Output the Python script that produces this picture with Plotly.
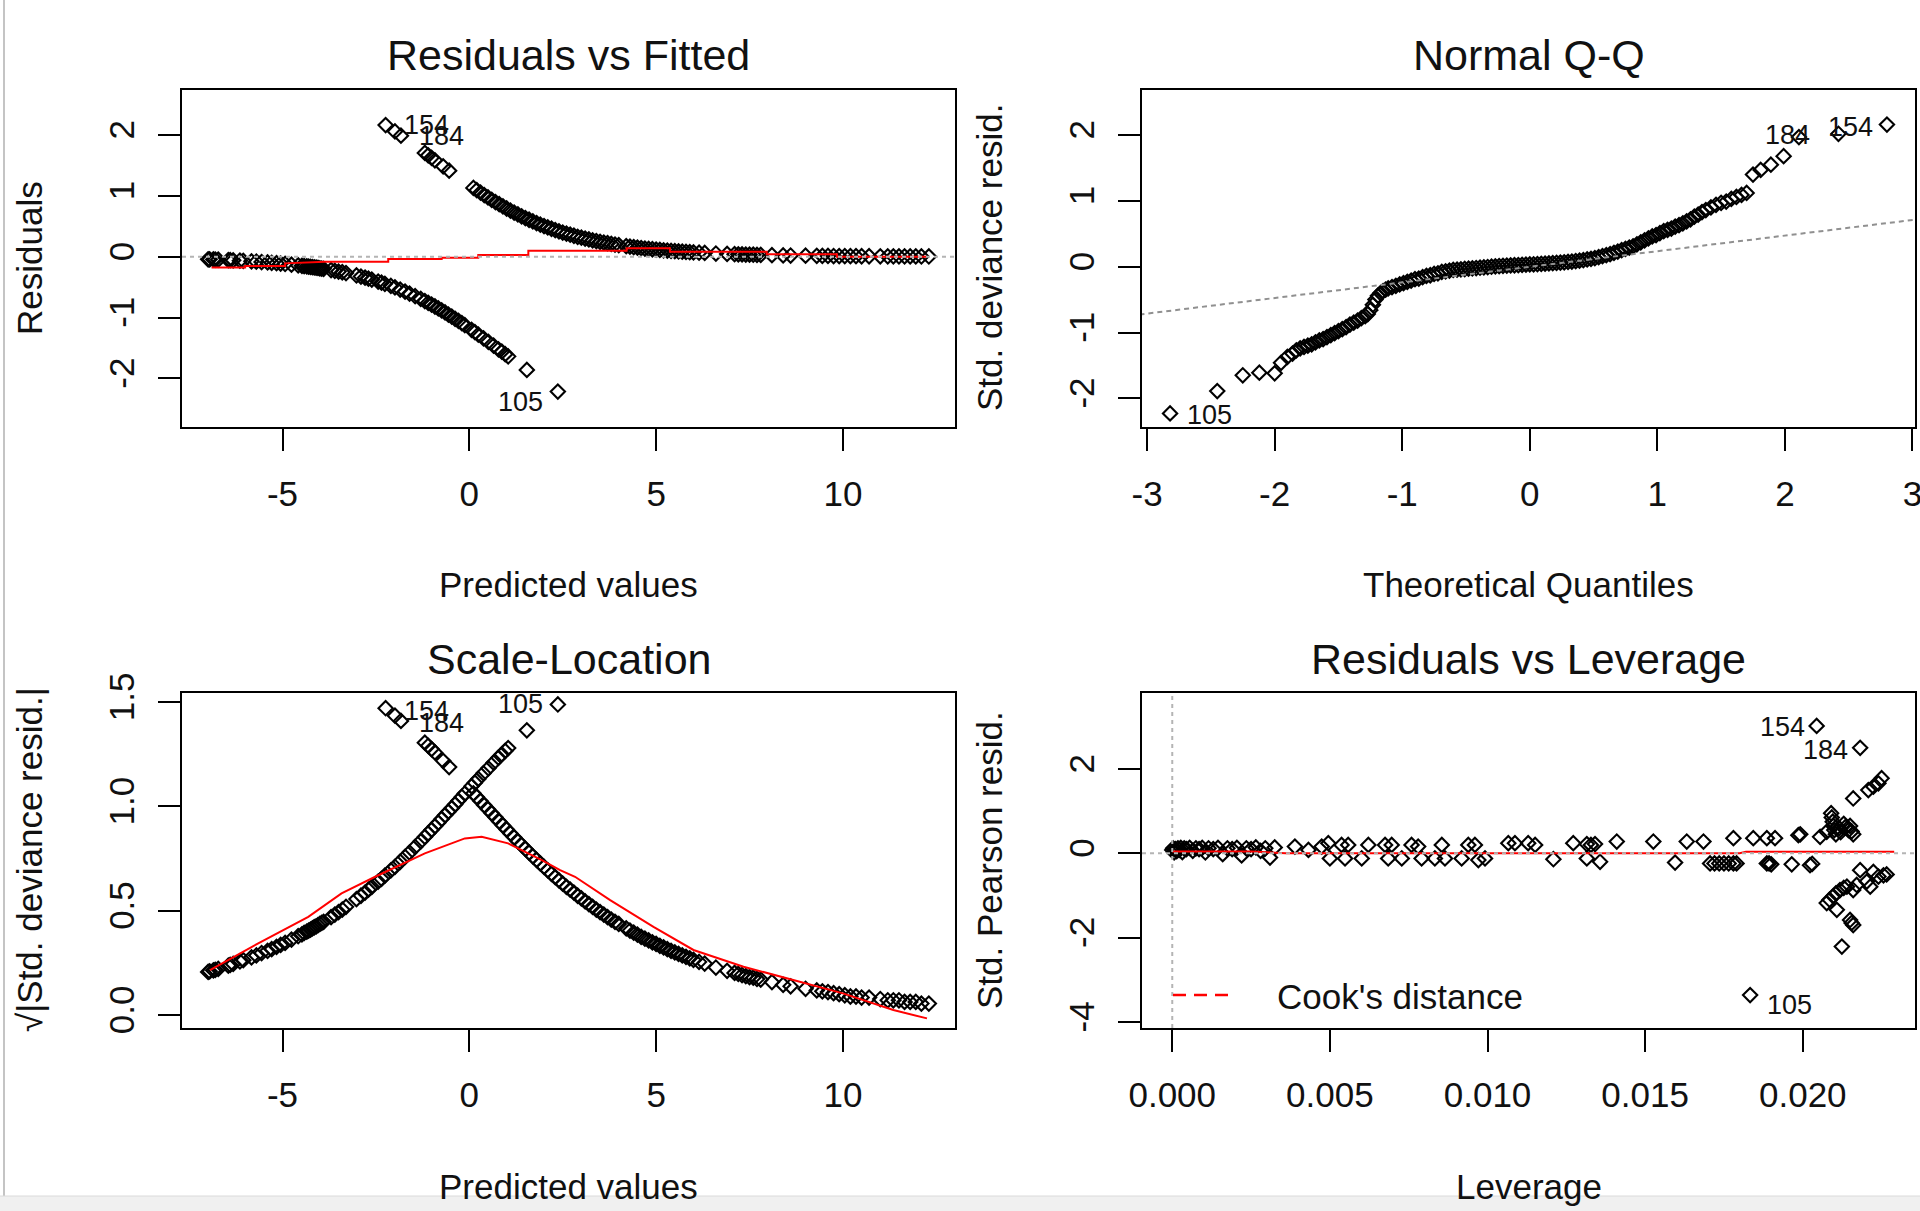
import plotly.graph_objects as go

W, H = 1920, 1211

# ---------------- data ----------------
# observations with response 0 (lower branch in Residuals vs Fitted)
fitted_y0 = [-6.99, -6.95, -6.85, -6.80, -6.72, -6.45, -6.40, -6.32, -6.14, -6.05,
             -5.83, -5.70, -5.56, -5.40, -5.29, -5.16, -5.05, -4.93, -4.76, -4.58,
             -4.48, -4.42, -4.35, -4.30, -4.25, -4.20, -4.15, -4.10, -4.05, -4.00,
             -3.95, -3.90, -3.70, -3.60, -3.50, -3.40, -3.30, -3.02, -2.90, -2.79,
             -2.70, -2.61, -2.44, -2.35, -2.26, -2.10, -1.99, -1.85, -1.72, -1.60,
             -1.45, -1.30, -1.19, -1.10, -1.01, -0.92, -0.83, -0.74, -0.65, -0.56,
             -0.47, -0.38, -0.29, -0.20, -0.12, 0.06, 0.15, 0.24, 0.38, 0.51,
             0.65, 0.78, 0.87, 0.96, 1.04, 1.54, 2.37]
resid_y0 = [-0.043, -0.044, -0.046, -0.047, -0.049, -0.056, -0.058, -0.060, -0.066, -0.069,
            -0.077, -0.082, -0.088, -0.095, -0.100, -0.107, -0.113, -0.120, -0.131, -0.143,
            -0.150, -0.155, -0.160, -0.164, -0.168, -0.173, -0.177, -0.181, -0.186, -0.191,
            -0.195, -0.200, -0.221, -0.232, -0.244, -0.256, -0.269, -0.309, -0.327, -0.345,
            -0.361, -0.377, -0.409, -0.427, -0.446, -0.481, -0.506, -0.540, -0.574, -0.607,
            -0.650, -0.694, -0.729, -0.758, -0.788, -0.819, -0.851, -0.883, -0.917, -0.951,
            -0.985, -1.021, -1.057, -1.094, -1.127, -1.203, -1.242, -1.281, -1.343, -1.400,
            -1.463, -1.522, -1.562, -1.603, -1.639, -1.862, -2.218]
sqrt_std_resid_y0 = [0.207, 0.210, 0.214, 0.217, 0.221, 0.237, 0.241, 0.245, 0.257, 0.263,
                     0.277, 0.286, 0.297, 0.308, 0.316, 0.327, 0.336, 0.346, 0.362, 0.378,
                     0.387, 0.394, 0.400, 0.405, 0.410, 0.416, 0.421, 0.425, 0.431, 0.437,
                     0.442, 0.447, 0.470, 0.482, 0.494, 0.506, 0.519, 0.556, 0.572, 0.587,
                     0.601, 0.614, 0.640, 0.653, 0.668, 0.694, 0.711, 0.735, 0.758, 0.779,
                     0.806, 0.833, 0.854, 0.871, 0.888, 0.905, 0.922, 0.940, 0.958, 0.975,
                     0.992, 1.010, 1.028, 1.046, 1.062, 1.097, 1.114, 1.132, 1.159, 1.183,
                     1.210, 1.234, 1.250, 1.266, 1.280, 1.365, 1.489]

# observations with response 1 (upper branch)
fitted_y1 = [-2.24, -1.99, -1.83, -1.19, -1.10, -1.01, -0.92, -0.70, -0.54,
             0.11, 0.20, 0.30, 0.40, 0.50, 0.60, 0.70, 0.80, 0.90, 1.00,
             1.10, 1.20, 1.30, 1.40, 1.50, 1.60, 1.70, 1.80, 1.90, 2.00,
             2.10, 2.20, 2.30, 2.40, 2.50, 2.60, 2.70, 2.80, 2.90, 3.00,
             3.10, 3.20, 3.30, 3.40, 3.50, 3.60, 3.70, 3.80, 3.90, 4.00,
             4.20, 4.30, 4.40, 4.50, 4.60, 4.70, 4.80, 4.90, 5.00, 5.10,
             5.20, 5.30, 5.40, 5.50, 5.60, 5.70, 5.80, 5.90, 6.00,
             6.15, 6.30, 6.60, 6.90,
             7.10, 7.20, 7.30, 7.40, 7.50, 7.60, 7.70, 7.80,
             8.10, 8.40, 8.60, 9.00,
             9.30, 9.45, 9.60, 9.75, 9.90, 10.05, 10.20, 10.35, 10.50,
             10.70, 11.00,
             11.20, 11.35, 11.50, 11.65, 11.80, 11.95, 12.10, 12.30]
resid_y1 = [2.164, 2.058, 1.989, 1.706, 1.666, 1.625, 1.585, 1.485, 1.414,
            1.131, 1.094, 1.053, 1.013, 0.974, 0.935, 0.898, 0.862, 0.826, 0.792,
            0.758, 0.726, 0.694, 0.664, 0.635, 0.607, 0.579, 0.553, 0.528, 0.504,
            0.481, 0.459, 0.437, 0.417, 0.397, 0.378, 0.361, 0.344, 0.327, 0.312,
            0.297, 0.283, 0.269, 0.256, 0.244, 0.232, 0.221, 0.210, 0.200, 0.191,
            0.173, 0.164, 0.156, 0.149, 0.141, 0.134, 0.128, 0.122, 0.116, 0.110,
            0.105, 0.100, 0.095, 0.090, 0.086, 0.082, 0.078, 0.074, 0.070,
            0.065, 0.061, 0.052, 0.045,
            0.041, 0.039, 0.037, 0.035, 0.033, 0.032, 0.030, 0.029,
            0.025, 0.021, 0.019, 0.016,
            0.014, 0.013, 0.012, 0.011, 0.010, 0.009, 0.008, 0.008, 0.007,
            0.007, 0.006,
            0.005, 0.005, 0.005, 0.004, 0.004, 0.004, 0.003, 0.003]
sqrt_std_resid_y1 = [1.471, 1.435, 1.410, 1.306, 1.291, 1.275, 1.259, 1.219, 1.189,
                     1.063, 1.046, 1.026, 1.006, 0.987, 0.967, 0.948, 0.928, 0.909, 0.890,
                     0.871, 0.852, 0.833, 0.815, 0.797, 0.779, 0.761, 0.744, 0.727, 0.710,
                     0.694, 0.677, 0.661, 0.646, 0.630, 0.615, 0.601, 0.587, 0.572, 0.559,
                     0.545, 0.532, 0.519, 0.506, 0.494, 0.482, 0.470, 0.458, 0.447, 0.437,
                     0.416, 0.405, 0.395, 0.386, 0.375, 0.366, 0.358, 0.349, 0.341, 0.332,
                     0.324, 0.316, 0.308, 0.300, 0.293, 0.286, 0.279, 0.272, 0.265,
                     0.255, 0.247, 0.228, 0.212,
                     0.202, 0.197, 0.192, 0.187, 0.182, 0.179, 0.173, 0.170,
                     0.158, 0.145, 0.138, 0.126,
                     0.118, 0.114, 0.110, 0.105, 0.100, 0.095, 0.089, 0.089, 0.084,
                     0.084, 0.077,
                     0.071, 0.071, 0.071, 0.063, 0.063, 0.063, 0.055, 0.055]

# red smoother, Residuals vs Fitted
smooth_rvf_x = [-6.90, -6.00, -6.00, -4.93, -4.93, -3.86, -2.17, -2.17, -0.74, -0.74,
                0.24, 0.24, 1.58, 1.58, 4.21, 4.21, 5.37, 5.37, 7.96, 7.96,
                9.84, 9.84, 12.25]
smooth_rvf_y = [-0.180, -0.180, -0.153, -0.153, -0.110, -0.082, -0.082, -0.038, -0.038, -0.016,
                -0.016, 0.028, 0.028, 0.099, 0.099, 0.138, 0.138, 0.082, 0.082, 0.039,
                0.039, 0.000, 0.000]

# red smoother, Scale-Location
smooth_sl_x = [-6.94, -5.65, -4.31, -3.42, -2.52, -1.19, -0.12, 0.33, 1.04, 1.94,
               2.43, 2.83, 3.77, 4.93, 6.00, 7.34, 8.67, 10.00, 11.35, 12.25]
smooth_sl_y = [0.216, 0.344, 0.471, 0.583, 0.663, 0.775, 0.847, 0.855, 0.823, 0.743,
               0.695, 0.663, 0.551, 0.423, 0.312, 0.232, 0.168, 0.104, 0.024, -0.016]

# Normal Q-Q
qq_theoretical = [-2.82, -2.45, -2.25, -2.12, -2.00, -1.95, -1.90, -1.86, -1.83, -1.80,
                  -1.77, -1.74, -1.71, -1.68, -1.65, -1.62, -1.59, -1.56, -1.53,
                  -1.50, -1.47, -1.44, -1.41, -1.38, -1.35, -1.32, -1.29, -1.27,
                  -1.25, -1.23, -1.21, -1.19, -1.17, -1.15, -1.13, -1.11,
                  -1.08, -1.05, -1.02, -0.99, -0.96, -0.93, -0.90, -0.87, -0.84, -0.81,
                  -0.78, -0.75, -0.72, -0.69, -0.66, -0.63, -0.60,
                  -0.57, -0.54, -0.51, -0.48, -0.45, -0.42, -0.39, -0.36, -0.33, -0.30,
                  -0.27, -0.24, -0.21, -0.18, -0.15, -0.12, -0.09, -0.06, -0.03, 0.00,
                  0.03, 0.06, 0.09, 0.12, 0.15, 0.18, 0.21, 0.24, 0.27, 0.30,
                  0.33, 0.36, 0.39, 0.42, 0.45, 0.48, 0.51, 0.54, 0.57, 0.60,
                  0.63, 0.66, 0.69, 0.72, 0.75, 0.78, 0.81, 0.84, 0.87, 0.90,
                  0.93, 0.96, 0.99, 1.02,
                  1.05, 1.08, 1.11, 1.14, 1.17, 1.20, 1.23, 1.26, 1.29, 1.32,
                  1.35, 1.38, 1.42, 1.46, 1.50, 1.54, 1.58, 1.62, 1.66, 1.70,
                  1.75, 1.81, 1.89, 1.99, 2.11, 2.42, 2.80]
qq_std_resid = [-2.23, -1.89, -1.65, -1.61, -1.62, -1.46, -1.37, -1.32, -1.27, -1.24,
                -1.22, -1.20, -1.18, -1.15, -1.12, -1.10, -1.07, -1.04, -1.01,
                -0.98, -0.95, -0.92, -0.88, -0.85, -0.82, -0.78, -0.75, -0.72,
                -0.66, -0.58, -0.50, -0.44, -0.40, -0.37, -0.35, -0.33,
                -0.31, -0.29, -0.27, -0.25, -0.23, -0.21, -0.19, -0.18, -0.16, -0.14,
                -0.13, -0.11, -0.10, -0.08, -0.07, -0.06, -0.05,
                -0.045, -0.040, -0.035, -0.030, -0.025, -0.020, -0.015, -0.010, -0.005, 0.000,
                0.005, 0.010, 0.013, 0.016, 0.019, 0.022, 0.025, 0.028, 0.031, 0.034,
                0.037, 0.040, 0.043, 0.046, 0.050, 0.054, 0.058, 0.062, 0.067, 0.072,
                0.078, 0.085, 0.092, 0.100, 0.110, 0.120, 0.130, 0.145, 0.160, 0.175,
                0.190, 0.210, 0.230, 0.250, 0.270, 0.290, 0.310, 0.340, 0.370, 0.400,
                0.430, 0.460, 0.480, 0.510,
                0.54, 0.56, 0.58, 0.61, 0.63, 0.66, 0.69, 0.72, 0.76, 0.79,
                0.83, 0.86, 0.90, 0.94, 0.97, 0.99, 1.03, 1.06, 1.09, 1.12,
                1.40, 1.47, 1.55, 1.68, 1.97, 2.02, 2.16]
qq_line_x = [-3.2, 3.2]
qq_line_y = [-0.760, 0.757]

# Residuals vs Leverage
leverage = [0.00000, 0.00003, 0.00006, 0.00010, 0.00014, 0.00018, 0.00022, 0.00027, 0.00032, 0.00038,
            0.00045, 0.00055, 0.00065, 0.00075, 0.00085, 0.00095, 0.00105, 0.00115, 0.00130, 0.00145,
            0.00160, 0.00175, 0.00190, 0.00205, 0.00220, 0.00235, 0.00250, 0.00265, 0.00280, 0.00295,
            0.00310, 0.00325,
            0.00389, 0.00432, 0.00474, 0.00495, 0.00500, 0.00537, 0.00548, 0.00558, 0.00601, 0.00622,
            0.00675, 0.00685, 0.00696, 0.00728, 0.00759, 0.00780, 0.00791, 0.00833, 0.00855, 0.00865,
            0.00918, 0.00939, 0.00960, 0.00971, 0.00992, 0.01066, 0.01087, 0.01129,
            0.01151, 0.01209, 0.01272, 0.01315, 0.01328, 0.01341, 0.01315, 0.01357, 0.01410, 0.01526,
            0.01595, 0.01632, 0.01685,
            0.01706, 0.01720, 0.01735, 0.01750, 0.01765, 0.01780, 0.01790, 0.01780,
            0.01843, 0.01886, 0.01912, 0.01886, 0.01893, 0.01900, 0.01965, 0.01986, 0.01992, 0.02023,
            0.02030,
            0.02044, 0.02182, 0.01833,
            0.02055, 0.02076, 0.02090, 0.02092, 0.02095, 0.02097, 0.02100, 0.02105, 0.02115, 0.02120,
            0.02130, 0.02135, 0.02145, 0.02150, 0.02155, 0.02160,
            0.02160, 0.02208, 0.02224, 0.02240, 0.02250,
            0.02076, 0.02085, 0.02097, 0.02105, 0.02118, 0.02130, 0.02140, 0.02160, 0.02108, 0.02150,
            0.02155, 0.02160, 0.02124,
            0.02171, 0.02182, 0.02203, 0.02214, 0.02224, 0.02240, 0.02256, 0.02266]
std_pearson_resid = [0.08, 0.12, 0.02, 0.10, 0.05, 0.12, 0.08, 0.13, 0.03, 0.12,
                     0.10, 0.13, 0.06, 0.12, 0.10, 0.13, 0.02, 0.12, 0.10, 0.13,
                     -0.02, 0.12, 0.10, 0.13, -0.05, 0.12, 0.10, 0.14, 0.06, 0.12,
                     -0.10, 0.14,
                     0.16, 0.08, 0.16, 0.24, -0.12, 0.20, -0.12, 0.20, -0.12, 0.20,
                     0.20, -0.12, 0.20, -0.12, 0.20, 0.16, -0.12, -0.12, 0.20, -0.12,
                     -0.12, 0.20, 0.20, -0.16, -0.12, 0.24, 0.24, 0.24,
                     0.20, -0.14, 0.24, 0.22, 0.20, 0.22, -0.12, -0.20, 0.28, 0.28,
                     -0.22, 0.28, 0.28,
                     -0.24, -0.24, -0.24, -0.24, -0.24, -0.24, -0.24, 0.36,
                     0.36, 0.36, 0.36, -0.24, -0.24, -0.26, -0.26, 0.43, 0.45, -0.28,
                     -0.25,
                     3.02, 2.50, -3.36,
                     0.39, 0.51, 0.95, 0.85, 0.75, 0.65, 0.55, 0.45, 0.60, 0.50,
                     0.70, 0.62, 0.55, 0.65, 0.52, 0.45,
                     1.30, 1.50, 1.58, 1.66, 1.78,
                     -1.18, -1.10, -1.02, -0.95, -0.87, -0.82, -0.79, -0.87, -1.34, -1.58,
                     -1.65, -1.70, -2.21,
                     -0.75, -0.40, -0.67, -0.79, -0.44, -0.55, -0.52, -0.50]
smooth_lev_x = [0.0000, 0.0025, 0.0036, 0.0180, 0.0182, 0.0229]
smooth_lev_y = [0.045, 0.045, 0.000, 0.000, 0.040, 0.040]

# axis ticks
rvf_x_ticks = [-5, 0, 5, 10]
rvf_y_ticks = [-2, -1, 0, 1, 2]
qq_x_ticks = [-3, -2, -1, 0, 1, 2, 3]
qq_y_ticks = [-2, -1, 0, 1, 2]
sl_y_ticks = [0.0, 0.5, 1.0, 1.5]
sl_y_ticktext = ["0.0", "0.5", "1.0", "1.5"]
lev_x_ticks = [0.0, 0.005, 0.010, 0.015, 0.020]
lev_x_ticktext = ["0.000", "0.005", "0.010", "0.015", "0.020"]
lev_y_ticks = [-4, -2, 0, 2]

# ---------------- figure ----------------
FONT = "Arial, Liberation Sans, Helvetica, sans-serif"
BLACK = "#111111"
GRAY_DOT = "#b4b4b4"


def pxx(px):
    return px / W


def pxy(py):
    return 1 - py / H


marker = dict(symbol="diamond-open", size=11, color="black", line=dict(width=2.1, color="black"))

fig = go.Figure()


def pts(x, y, xa, ya):
    fig.add_trace(go.Scatter(x=x, y=y, mode="markers", marker=marker, xaxis=xa, yaxis=ya,
                             hoverinfo="skip", showlegend=False))


def line(x, y, xa, ya, color, width=2, dash="solid"):
    fig.add_trace(go.Scatter(x=x, y=y, mode="lines", line=dict(color=color, width=width, dash=dash),
                             xaxis=xa, yaxis=ya, hoverinfo="skip", showlegend=False))


# panel 1
pts(fitted_y0, resid_y0, "x", "y")
pts(fitted_y1, resid_y1, "x", "y")
line(smooth_rvf_x, smooth_rvf_y, "x", "y", "#ff0000", 2)
# panel 2
pts(qq_theoretical, qq_std_resid, "x2", "y2")
line(qq_line_x, qq_line_y, "x2", "y2", "#909090", 2, "5px,4px")
# panel 3
pts(fitted_y0, sqrt_std_resid_y0, "x3", "y3")
pts(fitted_y1, sqrt_std_resid_y1, "x3", "y3")
line(smooth_sl_x, smooth_sl_y, "x3", "y3", "#ff0000", 2)
# panel 4
pts(leverage, std_pearson_resid, "x4", "y4")
line(smooth_lev_x, smooth_lev_y, "x4", "y4", "#ff0000", 2)

axis_common = dict(showline=True, mirror=True, linecolor="black", linewidth=2,
                   ticks="outside", ticklen=22, tickwidth=2, tickcolor="black",
                   showgrid=False, zeroline=False, fixedrange=True, automargin=False,
                   ticklabeloverflow="allow",
                   tickfont=dict(family=FONT, size=35, color=BLACK))
xcommon = dict(axis_common, ticklabelstandoff=13)
ycommon = dict(axis_common, ticklabelstandoff=10, tickangle=-90)

left_dom = [pxx(182), pxx(955)]
right_dom = [pxx(1142), pxx(1915)]
top_dom = [pxy(427), pxy(90)]
bot_dom = [pxy(1028), pxy(693)]

fig.update_layout(
    template="none",
    width=W, height=H, margin=dict(l=0, r=0, t=0, b=0, pad=0), autosize=False,
    paper_bgcolor="white", plot_bgcolor="white", showlegend=False,
    xaxis=dict(xcommon, domain=left_dom, anchor="y", range=[-7.69, 13.0],
               tickvals=rvf_x_ticks, ticktext=[str(v) for v in rvf_x_ticks]),
    yaxis=dict(ycommon, domain=top_dom, anchor="x", range=[-2.80, 2.74],
               tickvals=rvf_y_ticks, ticktext=[str(v) for v in rvf_y_ticks]),
    xaxis2=dict(xcommon, domain=right_dom, anchor="y2", range=[-3.04, 3.02],
                tickvals=qq_x_ticks, ticktext=[str(v) for v in qq_x_ticks]),
    yaxis2=dict(ycommon, domain=top_dom, anchor="x2", range=[-2.436, 2.685],
                tickvals=qq_y_ticks, ticktext=[str(v) for v in qq_y_ticks]),
    xaxis3=dict(xcommon, domain=left_dom, anchor="y3", range=[-7.69, 13.0],
                tickvals=rvf_x_ticks, ticktext=[str(v) for v in rvf_x_ticks]),
    yaxis3=dict(ycommon, domain=bot_dom, anchor="x3", range=[-0.062, 1.544],
                tickvals=sl_y_ticks, ticktext=sl_y_ticktext),
    xaxis4=dict(xcommon, domain=right_dom, anchor="y4", range=[-0.00096, 0.02356],
                tickvals=lev_x_ticks, ticktext=lev_x_ticktext),
    yaxis4=dict(ycommon, domain=bot_dom, anchor="x4", range=[-4.14, 3.80],
                tickvals=lev_y_ticks, ticktext=[str(v) for v in lev_y_ticks]),
)

shapes = [
    # gray dotted reference lines (drawn over the points, as in R)
    dict(type="line", xref="x domain", yref="y", x0=0, x1=1, y0=0, y1=0, layer="above",
         line=dict(color=GRAY_DOT, width=2, dash="4px,4px")),
    dict(type="line", xref="x4 domain", yref="y4", x0=0, x1=1, y0=0, y1=0, layer="above",
         line=dict(color=GRAY_DOT, width=2, dash="4px,4px")),
    dict(type="line", xref="x4", yref="y4 domain", x0=0, x1=0, y0=0, y1=1, layer="above",
         line=dict(color=GRAY_DOT, width=2, dash="4px,4px")),
    # legend sample for Cook's distance
    dict(type="line", xref="paper", yref="paper", x0=pxx(1173), x1=pxx(1232), y0=pxy(995), y1=pxy(995),
         layer="above", line=dict(color="#ff0000", width=2.5, dash="13px,8px")),
    # window frame: left border and bottom strip
    dict(type="line", xref="paper", yref="paper", x0=pxx(4), x1=pxx(4), y0=0, y1=1,
         layer="above", line=dict(color="#c4c4c4", width=2)),
    dict(type="rect", xref="paper", yref="paper", x0=0, x1=1, y0=0, y1=pxy(1196),
         layer="above", fillcolor="#f0f0f0", line=dict(width=0)),
    dict(type="line", xref="paper", yref="paper", x0=0, x1=1, y0=pxy(1196), y1=pxy(1196),
         layer="above", line=dict(color="#dadada", width=1)),
]

ann = []


def text_px(txt, x, y, size, angle=0):
    ann.append(dict(text=txt, x=pxx(x), y=pxy(y), xref="paper", yref="paper", showarrow=False,
                    xanchor="center", yanchor="middle", textangle=angle,
                    font=dict(family=FONT, size=size, color=BLACK)))


# panel captions
text_px("Residuals vs Fitted", 568.5, 55, 43)
text_px("Normal Q-Q", 1528.5, 55, 43)
text_px("Scale-Location", 568.5, 659, 43)
text_px("Residuals vs Leverage", 1528.5, 659, 43)
# axis titles
text_px("Predicted values", 568.5, 584, 35)
text_px("Theoretical Quantiles", 1528.5, 584, 35)
text_px("Predicted values", 568.5, 1186, 35)
text_px("Leverage", 1528.5, 1186, 35)
text_px("Residuals", 29, 258, 35, -90)
text_px("Std. deviance resid.", 989, 258, 35, -90)
text_px("\u221a|Std. deviance resid.|", 29, 860, 35, -90)
text_px("Std. Pearson resid.", 989, 860, 35, -90)
# legend text
ann.append(dict(text="Cook's distance", x=pxx(1275), y=pxy(996), xref="paper", yref="paper",
                showarrow=False, xanchor="left", yanchor="middle",
                font=dict(family=FONT, size=35, color=BLACK)))


def id_label(txt, xa, ya, x, y, side, dx, dy):
    ann.append(dict(text=txt, x=x, y=y, xref=xa, yref=ya, showarrow=False,
                    xanchor=side, yanchor="middle", xshift=dx, yshift=dy,
                    font=dict(family=FONT, size=27, color=BLACK)))


# id labels of the three extreme observations
id_label("154", "x", "y", fitted_y1[0], resid_y1[0], "left", 16, 0)
id_label("184", "x", "y", fitted_y1[2], resid_y1[2], "left", 16, 0)
id_label("105", "x", "y", fitted_y0[-1], resid_y0[-1], "right", -13, -10)
id_label("105", "x2", "y2", qq_theoretical[0], qq_std_resid[0], "left", 15, -2)
id_label("184", "x2", "y2", qq_theoretical[-2], qq_std_resid[-2], "right", -26, -1)
id_label("154", "x2", "y2", qq_theoretical[-1], qq_std_resid[-1], "right", -12, -2)
id_label("154", "x3", "y3", fitted_y1[0], sqrt_std_resid_y1[0], "left", 16, -3)
id_label("184", "x3", "y3", fitted_y1[2], sqrt_std_resid_y1[2], "left", 16, -2)
id_label("105", "x3", "y3", fitted_y0[-1], sqrt_std_resid_y0[-1], "right", -13, 0)
i154 = std_pearson_resid.index(3.02)
i184 = std_pearson_resid.index(2.50)
i105 = std_pearson_resid.index(-3.36)
id_label("154", "x4", "y4", leverage[i154], std_pearson_resid[i154], "right", -10, -1)
id_label("184", "x4", "y4", leverage[i184], std_pearson_resid[i184], "right", -10, -2)
id_label("105", "x4", "y4", leverage[i105], std_pearson_resid[i105], "left", 15, -10)

fig.update_layout(shapes=shapes, annotations=ann)

fig.write_html("out.html", config={"displayModeBar": False})
